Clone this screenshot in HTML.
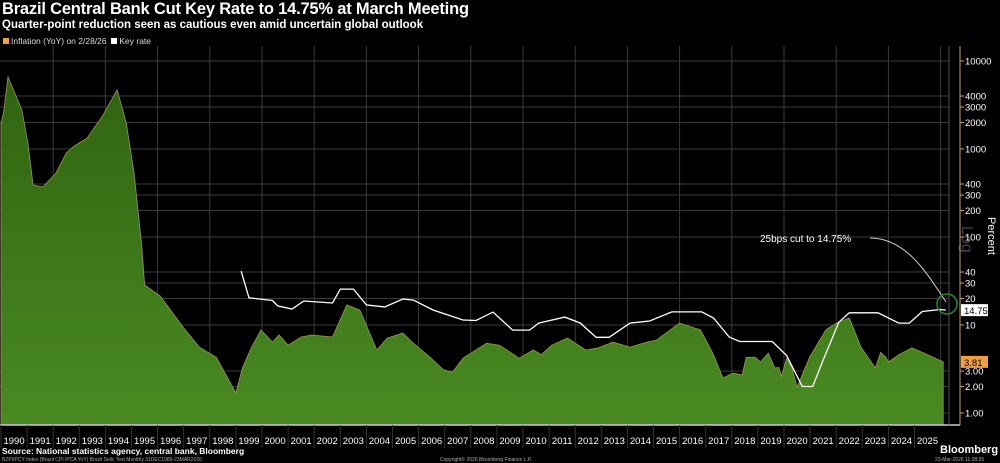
<!DOCTYPE html>
<html><head><meta charset="utf-8"><style>
body{margin:0;background:#000;width:1000px;height:463px;overflow:hidden;font-family:"Liberation Sans",sans-serif;color:#fff}
#t{position:absolute;left:2px;top:0;font-size:16.5px;font-weight:bold;letter-spacing:-0.2px}
#st{position:absolute;left:2px;top:19px;font-size:11.5px;font-weight:bold}
#lg{position:absolute;left:3px;top:36px;font-size:8.5px;color:#ddd}
.sw{display:inline-block;width:6px;height:6px;margin-right:2px}
svg{position:absolute;left:0;top:0}
</style></head><body>
<div id="t">Brazil Central Bank Cut Key Rate to 14.75% at March Meeting</div>
<div id="st">Quarter-point reduction seen as cautious even amid uncertain global outlook</div>
<div id="lg"><span><span class="sw" style="background:#f0a040"></span>Inflation (YoY) on 2/28/26</span>&nbsp;&nbsp;<span><span class="sw" style="background:#fff"></span>Key rate</span></div>
<svg id="c" width="1000" height="463"><defs><linearGradient id="g" x1="0" y1="0" x2="0" y2="1"><stop offset="0" stop-color="#2f6410"/><stop offset="1" stop-color="#4a8a22"/></linearGradient></defs></svg>
<script>
const yTicks=[10000,4000,3000,2000,1000,400,300,200,100,40,30,20,10,3,2,1];
const yTickLabels=["10000","4000","3000","2000","1000","400","300","200","100","40","30","20","10","3.00","2.00","1.00"];
const years=[1990,1991,1992,1993,1994,1995,1996,1997,1998,1999,2000,2001,2002,2003,2004,2005,2006,2007,2008,2009,2010,2011,2012,2013,2014,2015,2016,2017,2018,2019,2020,2021,2022,2023,2024,2025];
const inflDates=[1990.0,1990.1,1990.27,1990.8,1991.03,1991.23,1991.6,1992.1,1992.5,1992.8,1993.3,1993.9,1994.45,1994.8,1995.1,1995.4,1995.5,1996.1,1996.97,1997.6,1998.25,1999.0,1999.25,1999.6,1999.96,2000.4,2000.65,2001.0,2001.5,2001.9,2002.7,2003.25,2003.75,2004.4,2004.8,2005.4,2005.8,2006.44,2006.95,2007.3,2007.7,2008.6,2009.1,2009.85,2010.4,2010.7,2011.1,2011.7,2012.4,2012.9,2013.45,2014.1,2014.75,2015.1,2016.0,2016.8,2017.3,2017.66,2018.05,2018.4,2018.55,2018.9,2019.1,2019.4,2019.65,2019.8,2019.9,2020.1,2020.3,2020.5,2020.98,2021.6,2022.0,2022.5,2022.95,2023.5,2023.7,2023.9,2024.0,2024.4,2024.9,2025.5,2026.1];
const inflValues=[1970,2600,6600,2770,1170,390,370,530,900,1080,1330,2400,4700,1970,530,77,28.5,21.3,9.5,5.6,4.3,1.69,3.25,5.6,8.8,6.4,7.7,5.9,7.3,7.7,7.3,16.9,14.8,5.2,7.1,8.1,6.2,4.3,3.1,2.9,4.2,6.2,5.9,4.2,5.2,4.6,5.9,7.1,5.2,5.5,6.4,5.6,6.4,6.7,10.5,8.8,4.6,2.5,2.85,2.7,4.3,4.3,3.8,4.8,3.25,3.3,2.6,4.2,3.3,1.97,4.3,8.8,10.5,12.0,5.6,3.25,4.9,4.3,3.8,4.6,5.5,4.6,3.81];
const rateDates=[1999.2,1999.5,2000.4,2000.6,2001.15,2001.6,2002.7,2003.0,2003.5,2004.0,2004.7,2005.4,2005.8,2006.55,2007.7,2008.2,2008.85,2009.6,2010.25,2010.6,2011.6,2012.2,2012.8,2013.3,2014.1,2014.85,2015.7,2016.85,2017.3,2017.9,2018.3,2019.55,2020.1,2020.7,2021.1,2021.5,2022.1,2022.5,2023.6,2024.4,2024.8,2025.3,2026.0,2026.2];
const rateValues=[41,20.4,19,16.5,15.2,18.75,17.8,25.6,25.6,16.9,16,19.75,19.2,14.8,11.4,11.25,14,8.75,8.75,10.5,12.3,10.5,7.25,7.25,10.5,11.1,14.1,14.1,12,7.3,6.5,6.5,4.5,2.0,2.0,4,10.75,13.75,13.75,10.5,10.5,14.25,15,14.75];
const NS='http://www.w3.org/2000/svg',svg=document.getElementById('c');
const X=d=>1+(d-1990)*26.1;
const Y=v=>413-88*Math.log10(v);
function mk(t,a,p){const e=document.createElementNS(NS,t);for(const k in a)e.setAttribute(k,a[k]);(p||svg).appendChild(e);return e;}
const lg=mk('text',{x:0,y:0,fill:'#444','font-size':16,transform:'translate(962,226) rotate(90)'});lg.textContent='Log';
for(let i=0;i<yTicks.length;i++){const l=mk('line',{x1:0,x2:949,y1:Y(yTicks[i]),y2:Y(yTicks[i]),stroke:'#3a3a3a','stroke-width':1});


mk('line',{x1:960,x2:964,y1:Y(yTicks[i]),y2:Y(yTicks[i]),stroke:'#c8a070'});
const t=mk('text',{x:965,y:Y(yTicks[i])+3.5,fill:'#fff','font-size':9.5});t.textContent=yTickLabels[i];

}
for(let yr=1992;yr<=2026;yr+=2){const l=mk('line',{x1:X(yr),x2:X(yr),y1:46,y2:425,stroke:'#3a3a3a'});

}
let p='M'+X(inflDates[0])+',425';
for(let i=0;i<inflDates.length;i++)p+=' L'+X(inflDates[i]).toFixed(1)+','+Y(inflValues[i]).toFixed(1);
p+=' L'+X(inflDates[inflDates.length-1]).toFixed(1)+',425 Z';
const a=mk('path',{d:p,fill:'url(#g)',stroke:'#a09060','stroke-width':0.8});


let q='';for(let i=0;i<rateDates.length;i++)q+=(i?' L':'M')+X(rateDates[i]).toFixed(1)+','+Y(rateValues[i]).toFixed(1);
const r=mk('path',{d:q,fill:'none',stroke:'#fff','stroke-width':1.3});


const ax=mk('line',{x1:0,x2:960,y1:425,y2:425,stroke:'#ccc','stroke-width':1.5});


const ay=mk('line',{x1:960,x2:960,y1:46,y2:425,stroke:'#c8a070'});


mk('line',{x1:949,x2:949,y1:46,y2:425,stroke:'#555'});
for(let i=0;i<years.length;i++){mk('line',{x1:X(years[i]),x2:X(years[i]),y1:425,y2:448,stroke:'#333'});
const t=mk('text',{x:X(years[i]+0.5),y:444,fill:'#fff','font-size':9.5,'text-anchor':'middle'});t.textContent=years[i];

}
const lr=rateValues[rateValues.length-1],li=inflValues[inflValues.length-1];
const b1=mk('rect',{x:961,y:Y(lr)-6,width:27,height:12,fill:'#fff'});


const t1=mk('text',{x:964,y:Y(lr)+4,fill:'#000','font-size':9.5});t1.textContent=lr.toFixed(2);
const b2=mk('rect',{x:961,y:Y(li)-6,width:27,height:12,fill:'#f0a040'});


const t2=mk('text',{x:964,y:Y(li)+4,fill:'#000','font-size':9.5});t2.textContent=li.toFixed(2);
const an=mk('text',{x:760,y:242,fill:'#fff','font-size':10});an.textContent='25bps cut to 14.75%';


mk('path',{d:'M870,238 C905,238 925,270 946,302',fill:'none',stroke:'#ccc','stroke-width':1});
const ci=mk('circle',{cx:947,cy:304,r:10,fill:'none',stroke:'#2a8a2a','stroke-width':1.5});


const pc=mk('text',{x:0,y:0,fill:'#fff','font-size':11,transform:'translate(988,217) rotate(90)'});pc.textContent='Percent';


</script>
<div style="position:absolute;left:2px;top:446px;font-size:8.5px;font-weight:bold">Source: National statistics agency, central bank, Bloomberg</div>
<div style="position:absolute;left:2px;top:457px;font-size:5px;color:#aaa">BZPIIPCY Index (Brazil CPI IPCA YoY) Brazil Selic Test Monthly 31DEC1989-23MAR2026</div>
<div style="position:absolute;left:440px;top:457px;font-size:5px;color:#aaa">Copyright© 2026 Bloomberg Finance L.P.</div>
<div style="position:absolute;left:940px;top:444px;font-size:11px;font-weight:bold">Bloomberg</div>
<div style="position:absolute;left:935px;top:457px;font-size:5px;color:#aaa">23-Mar-2026 11:28:35</div>
</body></html>
